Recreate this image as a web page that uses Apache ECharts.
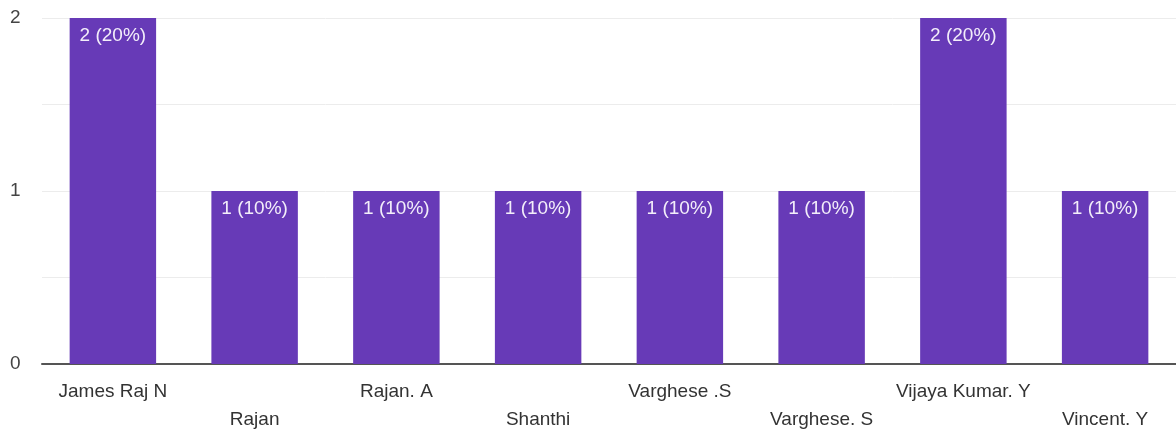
<!DOCTYPE html>
<html><head><meta charset="utf-8">
<script src="https://cdn.jsdelivr.net/npm/echarts@6/dist/echarts.min.js"></script>
<style>html,body{margin:0;padding:0;background:#fff}#c{width:1176px;height:436px}</style>
</head><body><div id="c"></div>
<script>
const categories = ['James Raj N','Rajan','Rajan. A','Shanthi','Varghese .S','Varghese. S','Vijaya Kumar. Y','Vincent. Y'];
const counts = [2,1,1,1,1,1,2,1];
const total = 10;
const chart = echarts.init(document.getElementById('c'));
chart.setOption({
  animation:false,
  grid:{left:42,right:0,top:18,bottom:72},
  xAxis:{type:'category',data:categories,
    axisTick:{show:false},
    axisLine:{lineStyle:{color:'#555',width:2}},
    axisLabel:{interval:0,margin:14,color:'#333',fontSize:19,lineHeight:28,fontFamily:'Liberation Sans, Arial, sans-serif',
      formatter:(v,i)=> i%2===1 ? '\n'+v : v}
  },
  yAxis:{type:'value',min:0,max:2,interval:0.5,
    axisLabel:{color:'#444',fontSize:19,margin:32,align:'left',fontFamily:'Liberation Sans, Arial, sans-serif',
      formatter:v=> Number.isInteger(v)? String(v):''},
    splitLine:{lineStyle:{color:'#ececec',width:1}}
  },
  series:[{type:'bar',data:counts,barWidth:'61%',
    itemStyle:{color:'#673ab7'},
    label:{show:true,position:'insideTop',distance:8,color:'#f3eefa',fontSize:19,fontFamily:'Liberation Sans, Arial, sans-serif',
      formatter:p=>p.value+' ('+Math.round(p.value/total*100)+'%)'}
  }]
});
</script></body></html>
